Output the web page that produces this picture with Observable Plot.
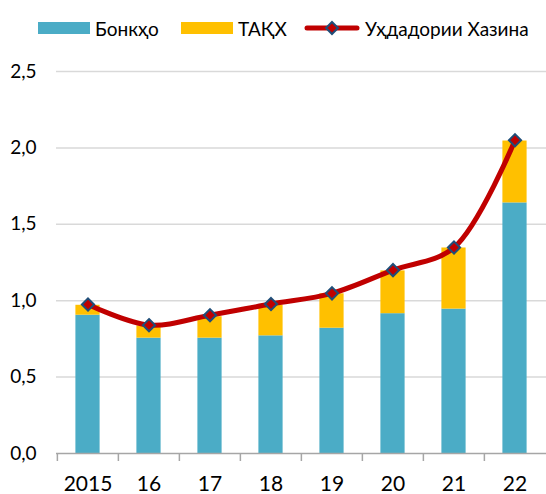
<!DOCTYPE html>
<html><head><meta charset="utf-8">
<script src="https://cdn.jsdelivr.net/npm/d3@7"></script>
<script src="https://cdn.jsdelivr.net/npm/@observablehq/plot@0.6"></script>
<style>
body{margin:0;background:#fff;font-family:Lato,"Noto Sans",sans-serif;color:#000;}
#wrap{position:relative;width:546px;height:494px;overflow:hidden;}
#legend{position:absolute;left:0;top:0;width:546px;height:48px;}
.item{position:absolute;top:16px;height:24px;display:flex;align-items:center;font-size:19px;white-space:nowrap;}
.item svg{margin-right:5px;}
#chart{position:absolute;left:0;top:48px;}
</style></head><body>
<div id="wrap"><div id="legend"></div><div id="chart"></div></div>
<script>
const years = ["2015","16","17","18","19","20","21","22"];
const banks = [0.905, 0.755, 0.755, 0.77, 0.82, 0.915, 0.945, 1.64];
const taqh = [0.065, 0.08, 0.14, 0.20, 0.225, 0.28, 0.40, 0.405];
const treasury = [0.975, 0.84, 0.905, 0.978, 1.048, 1.2, 1.348, 2.05];
const seriesNames = ["Бонкҳо", "ТАҚХ", "Уҳдадории Хазина"];
const colors = ["#4bacc6", "#ffc000", "#c00000"];
const markerStroke = "#1f4e79";
const yTicks = [0, 0.5, 1, 1.5, 2, 2.5];

const stacked = years.flatMap((y, i) => [
  {year: y, series: seriesNames[0], value: banks[i]},
  {year: y, series: seriesNames[1], value: taqh[i]}
]);
const line = years.map((y, i) => ({year: y, value: treasury[i]}));

const W = 546, H = 446, ML = 56, MR = 0, MT = 23, MB = 41;
const step = (W - ML - MR) / years.length;
const fmt = d => d.toFixed(1).replace(".", ",");

const chart = Plot.plot({
  width: W, height: H, marginLeft: ML, marginRight: MR, marginTop: MT, marginBottom: MB,
  style: {fontFamily: "Lato, 'Noto Sans', sans-serif", fontSize: "19px", color: "#000", background: "#fff"},
  x: {type: "band", domain: years, padding: 0, axis: null},
  y: {domain: [0, 2.5], axis: null},
  color: {domain: seriesNames.slice(0, 2), range: colors.slice(0, 2)},
  marks: [
    Plot.ruleY(yTicks.filter(d => d > 0), {stroke: "#d9d9d9", strokeWidth: 1.5}),
    Plot.barY(stacked, {x: "year", y: "value", fill: "series", insetLeft: 18.4, insetRight: 18.4}),
    Plot.ruleY([0], {stroke: "#a6a6a6", strokeWidth: 1.5}),
    Plot.axisY(yTicks, {tickSize: 0, tickPadding: 20, tickFormat: fmt, fontSize: 19, label: null}),
    Plot.axisX({tickSize: 0, tickPadding: 23, fontSize: 21, label: null}),
    Plot.axisX({tickSize: 8, tickFormat: () => "", dx: -step / 2, stroke: "#a6a6a6", strokeWidth: 1.5, label: null}),
    Plot.line(line, {x: "year", y: "value", stroke: colors[2], strokeWidth: 5, curve: "catmull-rom"}),
    Plot.dot(line, {x: "year", y: "value", symbol: "diamond2", r: 5.5, fill: colors[2], stroke: markerStroke, strokeWidth: 2})
  ]
});
document.getElementById("chart").appendChild(chart);

// legend
const legend = document.getElementById("legend");
const legendX = [38, 181, 304];
seriesNames.forEach((name, i) => {
  const div = document.createElement("div");
  div.className = "item";
  div.style.left = legendX[i] + "px";
  let sw;
  if (i < 2) {
    sw = `<svg width="52" height="12"><rect width="52" height="12" fill="${colors[i]}"/></svg>`;
  } else {
    sw = `<svg width="56" height="16"><line x1="3" x2="53" y1="8" y2="8" stroke="${colors[2]}" stroke-width="5" stroke-linecap="round"/><path d="M28,2 L34,8 L28,14 L22,8 Z" fill="${colors[2]}" stroke="${markerStroke}" stroke-width="2"/></svg>`;
  }
  div.innerHTML = sw + `<span>${name}</span>`;
  legend.appendChild(div);
});
</script>
</body></html>
